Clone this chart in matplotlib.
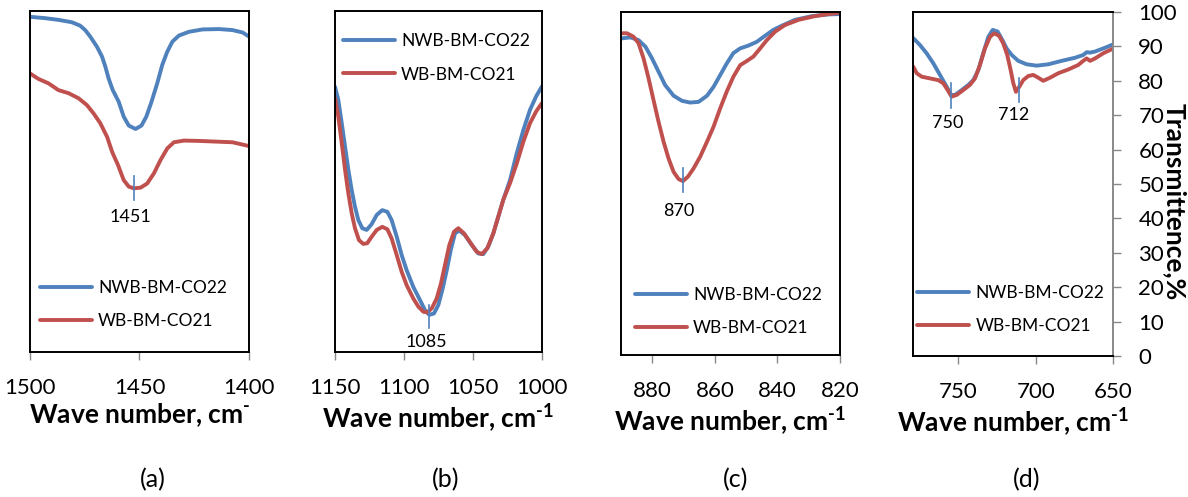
import matplotlib.pyplot as plt

plt.rcParams["font.family"] = ["Lato", "DejaVu Sans"]
plt.rcParams["mathtext.fontset"] = "custom"
plt.rcParams["mathtext.rm"] = "Lato:bold"
plt.rcParams["mathtext.bf"] = "Lato:bold"

BLUE = "#4F81BD"
RED = "#C0504D"
LABELS = ["NWB-BM-CO22", "WB-BM-CO21"]

# (a) 1500-1400 cm-1
a_x_nwb = [1500, 1493.1, 1487.0, 1480.9, 1477.1, 1474.8, 1472.5, 1469.4, 1467.1, 1465.6,
           1464.1, 1462.2, 1459.5, 1457.2, 1454.9, 1451.8, 1449.1, 1446.9, 1444.5, 1441.9,
           1439.6, 1437.3, 1435.0, 1432.0, 1427.4, 1421.2, 1413.6, 1407.5, 1402.9, 1400]
a_y_nwb = [98.3, 97.9, 97.4, 96.7, 95.7, 94.4, 92.5, 89.5, 86.6, 83.7,
           80.2, 76.8, 73.4, 69.0, 66.4, 65.4, 66.4, 69.0, 73.4, 78.8,
           84.2, 88.1, 91.0, 92.8, 93.9, 94.6, 94.7, 94.4, 93.7, 92.5]
a_x_wb = [1500, 1496.2, 1491.6, 1487.0, 1482.4, 1477.8, 1474.0, 1471.0, 1467.9, 1464.8,
          1462.5, 1459.8, 1457.2, 1454.9, 1452.6, 1449.5, 1446.5, 1443.4, 1440.4, 1437.3,
          1434.3, 1429.7, 1422.8, 1415.1, 1407.5, 1400]
a_y_wb = [81.7, 80.1, 78.8, 76.8, 75.9, 74.4, 72.4, 70.0, 67.1, 63.1,
          58.7, 54.8, 50.4, 48.5, 48.0, 48.2, 49.4, 52.4, 56.3, 59.7,
          61.5, 62.0, 61.9, 61.7, 61.5, 60.4]

# (b) 1150-1000 cm-1
b_x_nwb = [1150, 1147.6, 1145.1, 1142.7, 1140.3, 1137.9, 1135.5, 1133.1, 1130.2, 1127.0,
           1123.4, 1119.7, 1115.7, 1112.0, 1108.9, 1105.2, 1101.6, 1098.0, 1093.2, 1088.3,
           1084.7, 1081.6, 1078.2, 1075.0, 1071.8, 1068.9, 1066.0, 1062.9, 1059.8, 1055.7,
           1050.8, 1046.0, 1042.4, 1038.8, 1035.1, 1031.5, 1027.9, 1023.0, 1018.1, 1013.3,
           1008.5, 1004.1, 1000]
b_y_nwb = [77.8, 73.9, 67.1, 60.2, 53.4, 47.5, 42.6, 38.7, 36.3, 35.8,
           37.5, 40.2, 41.6, 41.1, 38.7, 33.8, 28.4, 24.0, 19.1, 15.2,
           12.3, 10.9, 11.3, 13.8, 18.7, 24.0, 29.9, 34.8, 35.6, 34.3,
           31.4, 28.9, 28.7, 30.9, 34.8, 39.7, 44.6, 50.4, 58.3, 65.1,
           71.0, 74.9, 77.8]
b_x_wb = [1150, 1147.6, 1145.1, 1142.7, 1140.3, 1137.9, 1135.5, 1132.6, 1129.5, 1126.6,
          1123.4, 1119.7, 1115.7, 1112.0, 1108.9, 1105.2, 1101.6, 1098.0, 1093.2, 1089.5,
          1085.9, 1083.0, 1079.8, 1076.2, 1073.1, 1070.2, 1067.0, 1063.6, 1060.5, 1056.4,
          1051.5, 1047.2, 1043.5, 1039.5, 1035.1, 1031.5, 1027.9, 1023.0, 1018.1, 1013.3,
          1008.5, 1004.1, 1000]
b_y_wb = [74.4, 69.0, 61.2, 53.4, 46.5, 40.7, 36.3, 32.8, 31.7, 31.9,
          33.8, 35.8, 36.7, 36.0, 33.3, 28.4, 23.5, 19.6, 15.7, 13.3,
          11.8, 11.6, 12.8, 15.7, 20.1, 25.5, 31.4, 35.3, 36.3, 34.8,
          31.9, 29.4, 28.7, 30.4, 34.8, 39.7, 44.6, 49.5, 55.3, 61.7,
          67.1, 70.5, 72.9]

# (c) 890-820 cm-1
c_x_nwb = [889.9, 887.0, 884.4, 882.2, 880.1, 878.0, 875.9, 873.2, 870.5, 867.9,
           865.2, 862.5, 860.4, 858.3, 856.2, 854.1, 851.9, 849.3, 846.6, 843.9,
           841.3, 838.6, 834.4, 829.0, 823.7, 820]
c_y_nwb = [92.3, 92.6, 91.8, 89.9, 86.5, 82.6, 78.7, 75.6, 74.1, 73.6,
           73.8, 75.6, 78.2, 81.6, 85.0, 88.0, 89.4, 90.2, 91.3, 93.1,
           94.8, 96.0, 97.7, 98.8, 99.3, 99.4]
c_x_wb = [889.9, 888.1, 886.0, 884.4, 882.8, 881.2, 879.6, 878.0, 876.4, 874.8,
          873.2, 871.6, 870.2, 868.6, 866.8, 864.7, 862.5, 860.4, 858.3, 856.2,
          854.1, 851.9, 849.8, 847.7, 845.5, 843.4, 840.7, 837.6, 833.3, 828.0,
          823.7, 820]
c_y_wb = [93.8, 93.8, 92.8, 90.9, 86.5, 80.7, 74.3, 68.0, 62.2, 57.3,
          53.4, 51.3, 50.7, 52.0, 54.4, 57.8, 62.2, 66.6, 71.9, 76.8,
          81.1, 84.5, 85.7, 87.0, 89.4, 91.8, 94.3, 96.2, 97.7, 98.8,
          99.4, 99.8]

# (d) 779-650 cm-1
d_x_nwb = [779.0, 774.7, 770.4, 766.1, 761.8, 757.5, 754.7, 752.1, 747.8, 743.5,
           740.3, 737.1, 733.9, 730.6, 727.8, 724.6, 721.6, 718.8, 715.5, 711.3,
           705.9, 699.4, 691.9, 683.3, 674.7, 669.4, 667.2, 665.0, 661.8, 655.4, 650]
d_y_nwb = [92.4, 90.4, 88.0, 85.1, 81.7, 78.3, 75.9, 75.9, 77.3, 78.8,
           80.2, 83.1, 88.0, 92.8, 94.8, 94.3, 91.9, 89.4, 87.5, 85.8,
           84.8, 84.4, 84.8, 85.8, 86.7, 87.5, 88.3, 88.2, 88.5, 89.6, 90.6]
d_x_wb = [779.0, 776.8, 773.6, 768.3, 762.9, 759.7, 756.8, 754.3, 751.0, 746.8,
          742.5, 739.2, 736.0, 732.8, 729.5, 726.8, 723.7, 721.0, 718.4, 716.2,
          714.5, 712.8, 710.6, 708.1, 704.8, 701.6, 698.4, 695.2, 690.8, 685.5,
          679.0, 672.6, 669.4, 667.2, 665.0, 661.8, 656.5, 650]
d_y_wb = [84.1, 82.2, 81.2, 80.7, 80.2, 79.3, 77.3, 75.4, 75.9, 77.3,
          78.8, 80.7, 84.6, 89.4, 92.8, 93.8, 93.1, 90.9, 87.5, 83.1,
          79.3, 76.8, 78.3, 80.2, 81.4, 81.7, 80.9, 80.0, 80.9, 82.2,
          83.3, 84.6, 85.8, 86.5, 85.8, 86.5, 88.0, 89.4]

# peak markers: label, x of marker, marker top/bottom, text position
peaks = {
    "a": [("1451", 1452.6, 51.7, 44.6, 1454, 39.5)],
    "b": [("1085", 1082, 13.8, 7.0, 1084, 3.0)],
    "c": [("870", 870.3, 54.4, 47.6, 871.5, 42.0)],
    "d": [("750", 755, 79.3, 72.0, 757, 67.7),
          ("712", 710.6, 80.7, 73.9, 714, 70.0)],
}

panels = [
    # key, axes rect, xlim, xticks, series, legend anchor, caption x, xlabel
    ("a", [0.02525, 0.29175, 0.18434, 0.68612], (1500, 1400), [1500, 1450, 1400],
     (a_x_nwb, a_y_nwb, a_x_wb, a_y_wb), (0.046, 0.212), 0.129,
     r"Wave number, cm$^{\text{-}}$"),
    ("b", [0.28199, 0.29175, 0.17399, 0.68612], (1150, 1000), [1150, 1100, 1050, 1000],
     (b_x_nwb, b_y_nwb, b_x_wb, b_y_wb), (0.039, 0.935), 0.375,
     r"Wave number, cm$^{\text{-1}}$"),
    ("c", [0.52273, 0.28571, 0.18434, 0.69014], (890, 820), [880, 860, 840, 820],
     (c_x_nwb, c_y_nwb, c_x_wb, c_y_wb), (0.064, 0.198), 0.619,
     r"Wave number, cm$^{\text{-1}}$"),
    ("d", [0.76877, 0.28370, 0.16835, 0.69215], (779, 650), [750, 700, 650],
     (d_x_nwb, d_y_nwb, d_x_wb, d_y_wb), (0.02, 0.206), 0.864,
     r"Wave number, cm$^{\text{-1}}$"),
]

fig = plt.figure(figsize=(11.88, 4.97), dpi=100)

for key, rect, xlim, xticks, series, leg_pos, cap_x, xlabel in panels:
    ax = fig.add_axes(rect)
    x1, y1, x2, y2 = series
    ax.plot(x1, y1, color=BLUE, lw=2.8, label=LABELS[0],
            solid_joinstyle="round", solid_capstyle="round")
    ax.plot(x2, y2, color=RED, lw=2.8, label=LABELS[1],
            solid_joinstyle="round", solid_capstyle="round")

    for text, px, ytop, ybot, tx, ty in peaks[key]:
        ax.plot([px, px], [ytop, ybot], color=BLUE, lw=1.2)
        ax.text(tx, ty, text, ha="center", va="center", fontsize=13)

    ax.set_xlim(*xlim)
    ax.set_ylim(0, 100)
    ax.set_xticks(xticks)
    ax.tick_params(axis="x", length=6, width=1, color="#888888", pad=13, labelsize=16)
    for side in ["left", "right", "top", "bottom"]:
        ax.spines[side].set_linewidth(1.4)
        ax.spines[side].set_color("black")

    if key == "d":
        ax.yaxis.tick_right()
        ax.set_yticks(range(0, 101, 10))
        ax.tick_params(axis="y", length=6, width=1, color="#888888", pad=12, labelsize=16)
        ax.spines["right"].set_color("#888888")
    else:
        ax.set_yticks([])

    ax.set_xlabel(xlabel, fontsize=19, fontweight="bold", labelpad=2)
    ax.legend(loc="upper left", bbox_to_anchor=leg_pos, frameon=False, fontsize=12.5,
              borderpad=0, borderaxespad=0, handlelength=3.0, handletextpad=0.35,
              labelspacing=1.0)

    fig.text(cap_x, 1 - 480 / 497, "(%s)" % key, ha="center", va="center", fontsize=18)

fig.text(0.989, 1 - 202 / 497, "Transmittence,%", rotation=270, ha="center", va="center",
         fontsize=19, fontweight="bold")

fig.savefig("out.png", dpi=100)
